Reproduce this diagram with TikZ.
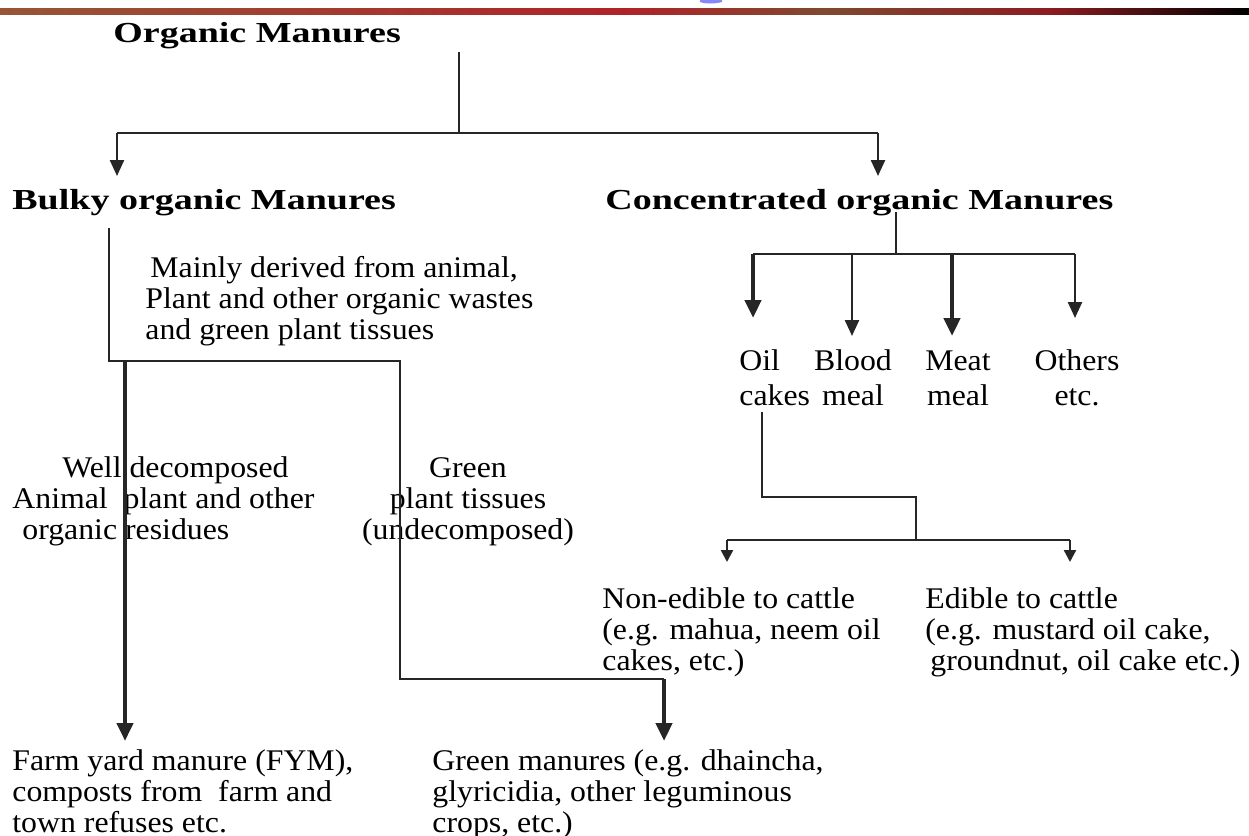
\documentclass[tikz,border=0pt]{standalone}
\usepackage{fontspec}
\setmainfont{Liberation Serif}[FakeStretch=1.06]
\newfontfamily\headfont{Liberation Serif}[FakeStretch=1.31]
\usetikzlibrary{arrows.meta,positioning,calc}
\definecolor{rulebrown}{RGB}{150,85,55}
\definecolor{rulered}{RGB}{175,35,40}
\definecolor{titleblue}{RGB}{135,135,245}
\pgfdeclarehorizontalshading{pagerule}{100bp}{color(0bp)=(rulebrown); color(25bp)=(rulebrown); color(50bp)=(rulered); color(58bp)=(rulebrown!85!black); color(67bp)=(rulered!80!black); color(75bp)=(black); color(100bp)=(black)}
\tikzset{
  head/.style={font=\headfont\bfseries\fontsize{14.5}{16}\selectfont,inner sep=0pt,anchor=base west},
  body/.style={font=\fontsize{15}{15.5}\selectfont,inner sep=0pt,align=left,anchor=base west},
  item/.style={font=\fontsize{15}{17.5}\selectfont,inner sep=0pt,align=center,anchor=base},
  link/.style={draw=black!85,line width=1.2pt},
  down/.style={link,-{Triangle[width=7pt,length=8pt]}},
  small/.style={link,-{Triangle[width=6pt,length=6pt]}},
  heavy/.style={link,line width=2.3pt,-{Triangle[width=8pt,length=9pt]}},
}

\begin{document}
\begin{tikzpicture}[x=0.5pt,y=-0.5pt]
\useasboundingbox (0,0) rectangle (1249,836);
% page rule and the cut-off title above it
\shade[shading=pagerule] (0,8) rectangle (1249,14);
\fill[titleblue] (700,0) -- (722,0) -- (722,2) .. controls (715,4) and (705,4) .. (700,2) -- cycle;

% headings
\node[head] (om) at (113,42) {Organic Manures};
\node[head] (bulky) at (12,209) {Bulky organic Manures};
\node[head] (conc) at (605,209) {Concentrated organic Manures};

% first split
\coordinate (omstem) at (459,52);
\coordinate (omfork) at (459,133);
\coordinate (forkl) at (117,133);
\coordinate (forkr) at (878,133);
\coordinate (bulkytip) at (117,176);
\coordinate (conctip) at (878,176);
\draw[link] (omstem) -- (omfork);
\draw[link] (forkl) -- (forkr);
\draw[down] (forkl) -- (bulkytip);
\draw[down] (forkr) -- (conctip);

% bulky manures (base anchor = last line)
\node[body] (mainly) at (145,339) {\hspace*{2.5pt}Mainly derived from animal,\\Plant and other organic wastes\\and green plant tissues};
\node[body] (well) at (12,539) {\hspace*{25pt}Well decomposed\\Animal\ \ plant and other\\\hspace*{5pt}organic residues};
\node[body,align=center,anchor=base] (green) at (468,539) {Green\\plant tissues\\(undecomposed)};
\node[body] (fym) at (12,832) {Farm yard manure (FYM),\\composts from\ \ farm and\\town refuses etc.};
\node[body] (gm) at (432,832) {Green manures (e.g. dhaincha,\\glyricidia, other leguminous\\crops, etc.)};

\coordinate (bstem) at (109,228);
\coordinate (bcorner) at (109,361);
\coordinate (gcorner) at (400,361);
\coordinate (gbend) at (400,679);
\coordinate (gdrop) at (664,679);
\coordinate (gtip) at (664,741);
\coordinate (fstart) at (125,362);
\coordinate (ftip) at (125,741);
\draw[link] (bstem) -- (bcorner) -- (gcorner) -- (gbend) -- (gdrop);
\draw[heavy] (gdrop) -- (gtip);
\draw[heavy] (fstart) -- (ftip);

% concentrated manures
\coordinate (cstem) at (896,212);
\coordinate (cfork) at (896,254);
\draw[link] (cstem) -- (cfork);
\draw[link] (753,254) -- (1075,254);
\foreach \x/\tip/\kind in {753/318/heavy,852/336/down,952/336/heavy,1075/318/down}
  \draw[\kind] (\x,254) -- (\x,\tip);
\node[item,align=left,anchor=base west] (oil) at (739,405) {Oil\\cakes};
\node[item] (blood) at (853,405) {Blood\\meal};
\node[item] (meat) at (958,405) {Meat\\meal};
\node[item] (others) at (1077,405) {Others\\etc.};

% oil cakes split
\coordinate (ostem) at (762,412);
\coordinate (obend) at (762,497);
\coordinate (ojog) at (916,497);
\coordinate (ofork) at (916,540);
\coordinate (nfork) at (727,540);
\coordinate (efork) at (1070,540);
\draw[link] (ostem) -- (obend) -- (ojog) -- (ofork);
\draw[link] (nfork) -- (efork);
\draw[small] (nfork) -- (727,562);
\draw[small] (efork) -- (1070,562);
\node[body] (nonedible) at (602,670) {Non-edible to cattle\\(e.g. mahua, neem oil\\cakes, etc.)};
\node[body] (edible) at (925,670) {Edible to cattle\\(e.g. mustard oil cake,\\\hspace*{2.5pt}groundnut, oil cake etc.)};
\end{tikzpicture}
\end{document}
